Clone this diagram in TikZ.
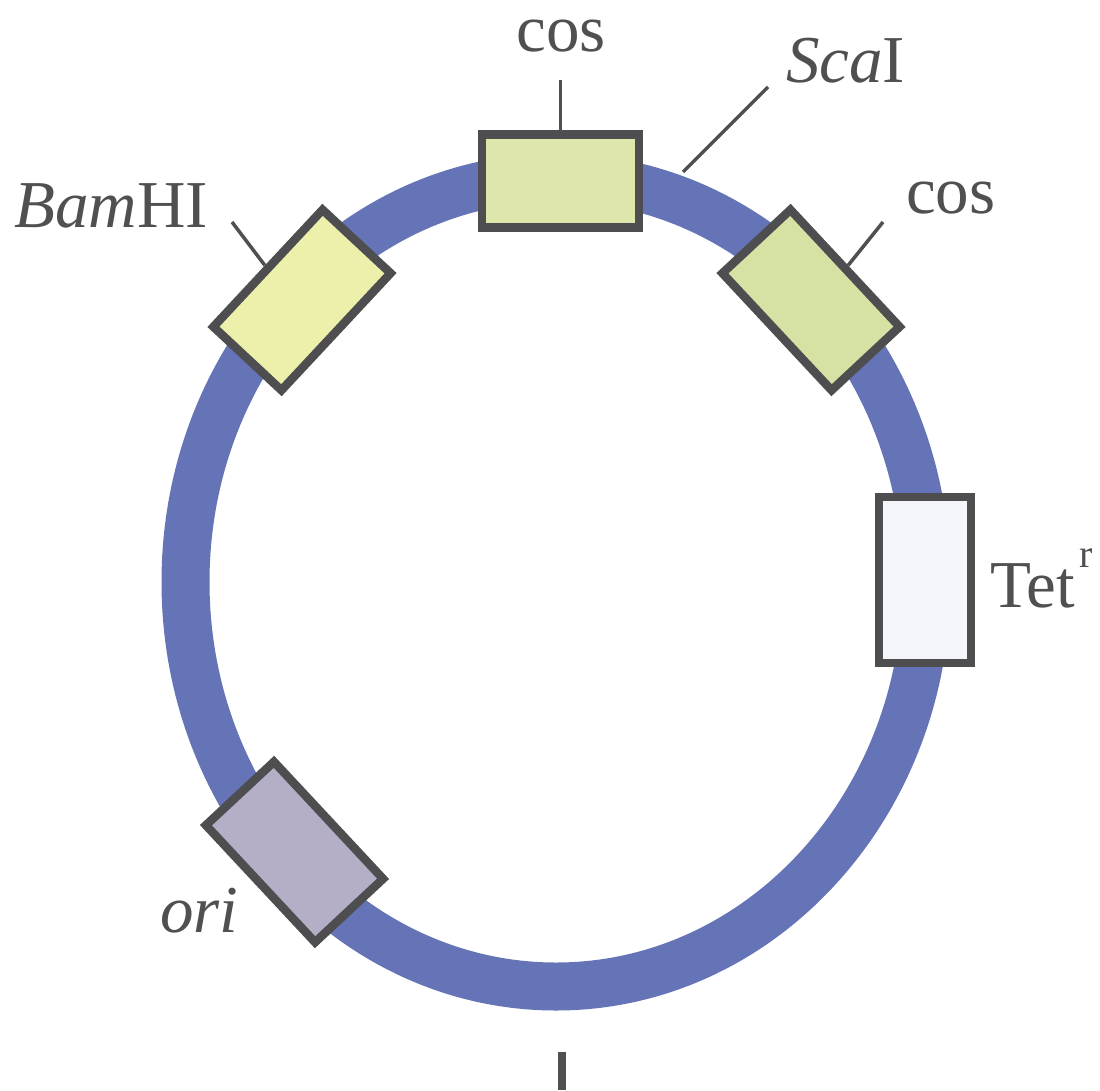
\documentclass[tikz,border=0pt]{standalone}
\usepackage{fontspec}
\setmainfont{Liberation Serif}
\definecolor{ringc}{RGB}{100,116,182}
\definecolor{boxline}{RGB}{78,78,80}
\definecolor{txt}{RGB}{80,80,82}
\definecolor{cosA}{RGB}{222,230,172}
\definecolor{cosB}{RGB}{214,225,164}
\definecolor{bamC}{RGB}{236,240,170}
\definecolor{oriC}{RGB}{180,174,198}
\definecolor{tetC}{RGB}{245,246,251}
\begin{document}
\begin{tikzpicture}[x=1pt,y=-1pt,
  box/.style={draw=boxline, line width=8.5pt, minimum width=160pt, minimum height=93pt, inner sep=0pt},
  lbl/.style={text=txt, font=\fontsize{67}{70}\selectfont, inner sep=0pt},
  lead/.style={draw=txt, line width=3.5pt}]
\useasboundingbox (0,0) rectangle (1100,1090);
\fill[white] (0,0) rectangle (1100,1090);
% plasmid ring
\draw[ringc, line width=48pt] (556,582) ellipse [x radius=370.5pt, y radius=404.5pt];
% boxes
\node[box, fill=cosA, minimum width=157pt] (cosT) at (560.5,181) {};
\node[box, fill=bamC, rotate=47] (bam) at (302,300) {};
\node[box, fill=cosB, rotate=-47] (cosR) at (811,300) {};
\node[box, fill=oriC, rotate=-47] (ori) at (294.5,852) {};
\node[box, fill=tetC, minimum width=92pt, minimum height=166pt] (tet) at (925,580) {};
% labels
\node[lbl, anchor=base, text height=31pt, text depth=0pt] (cosTl) at (561,51) {cos};
\node[lbl, anchor=base west, text height=31pt, text depth=0pt] (cosRl) at (906,213) {cos};
\node[lbl, anchor=base west] (baml) at (14,227) {\textit{Bam}HI};
\node[lbl, anchor=base west] (scal) at (786,82) {\textit{Sca}I};
\node[lbl, anchor=base west] (tetl) at (990,607) {Tet\kern5pt\raisebox{40pt}{\fontsize{40}{40}\selectfont r}};
\node[lbl, anchor=base west] (oril) at (160,932) {\textit{ori}};
% leader lines
\coordinate (cosTend) at (560.5,80);
\coordinate (bamend) at (232,222);
\coordinate (cosRend) at (883,222);
\coordinate (scaring) at (683,172);
\coordinate (scaend) at (768,87);
\draw[lead] (cosT.north) -- (cosTend);
\draw[lead] (bam.north) -- (bamend);
\draw[lead] (cosR.north) -- (cosRend);
\draw[lead] (scaring) -- (scaend);
% cut-off fragment at the bottom
\fill[txt] (558,1052) rectangle (566,1090);
\end{tikzpicture}
\end{document}
